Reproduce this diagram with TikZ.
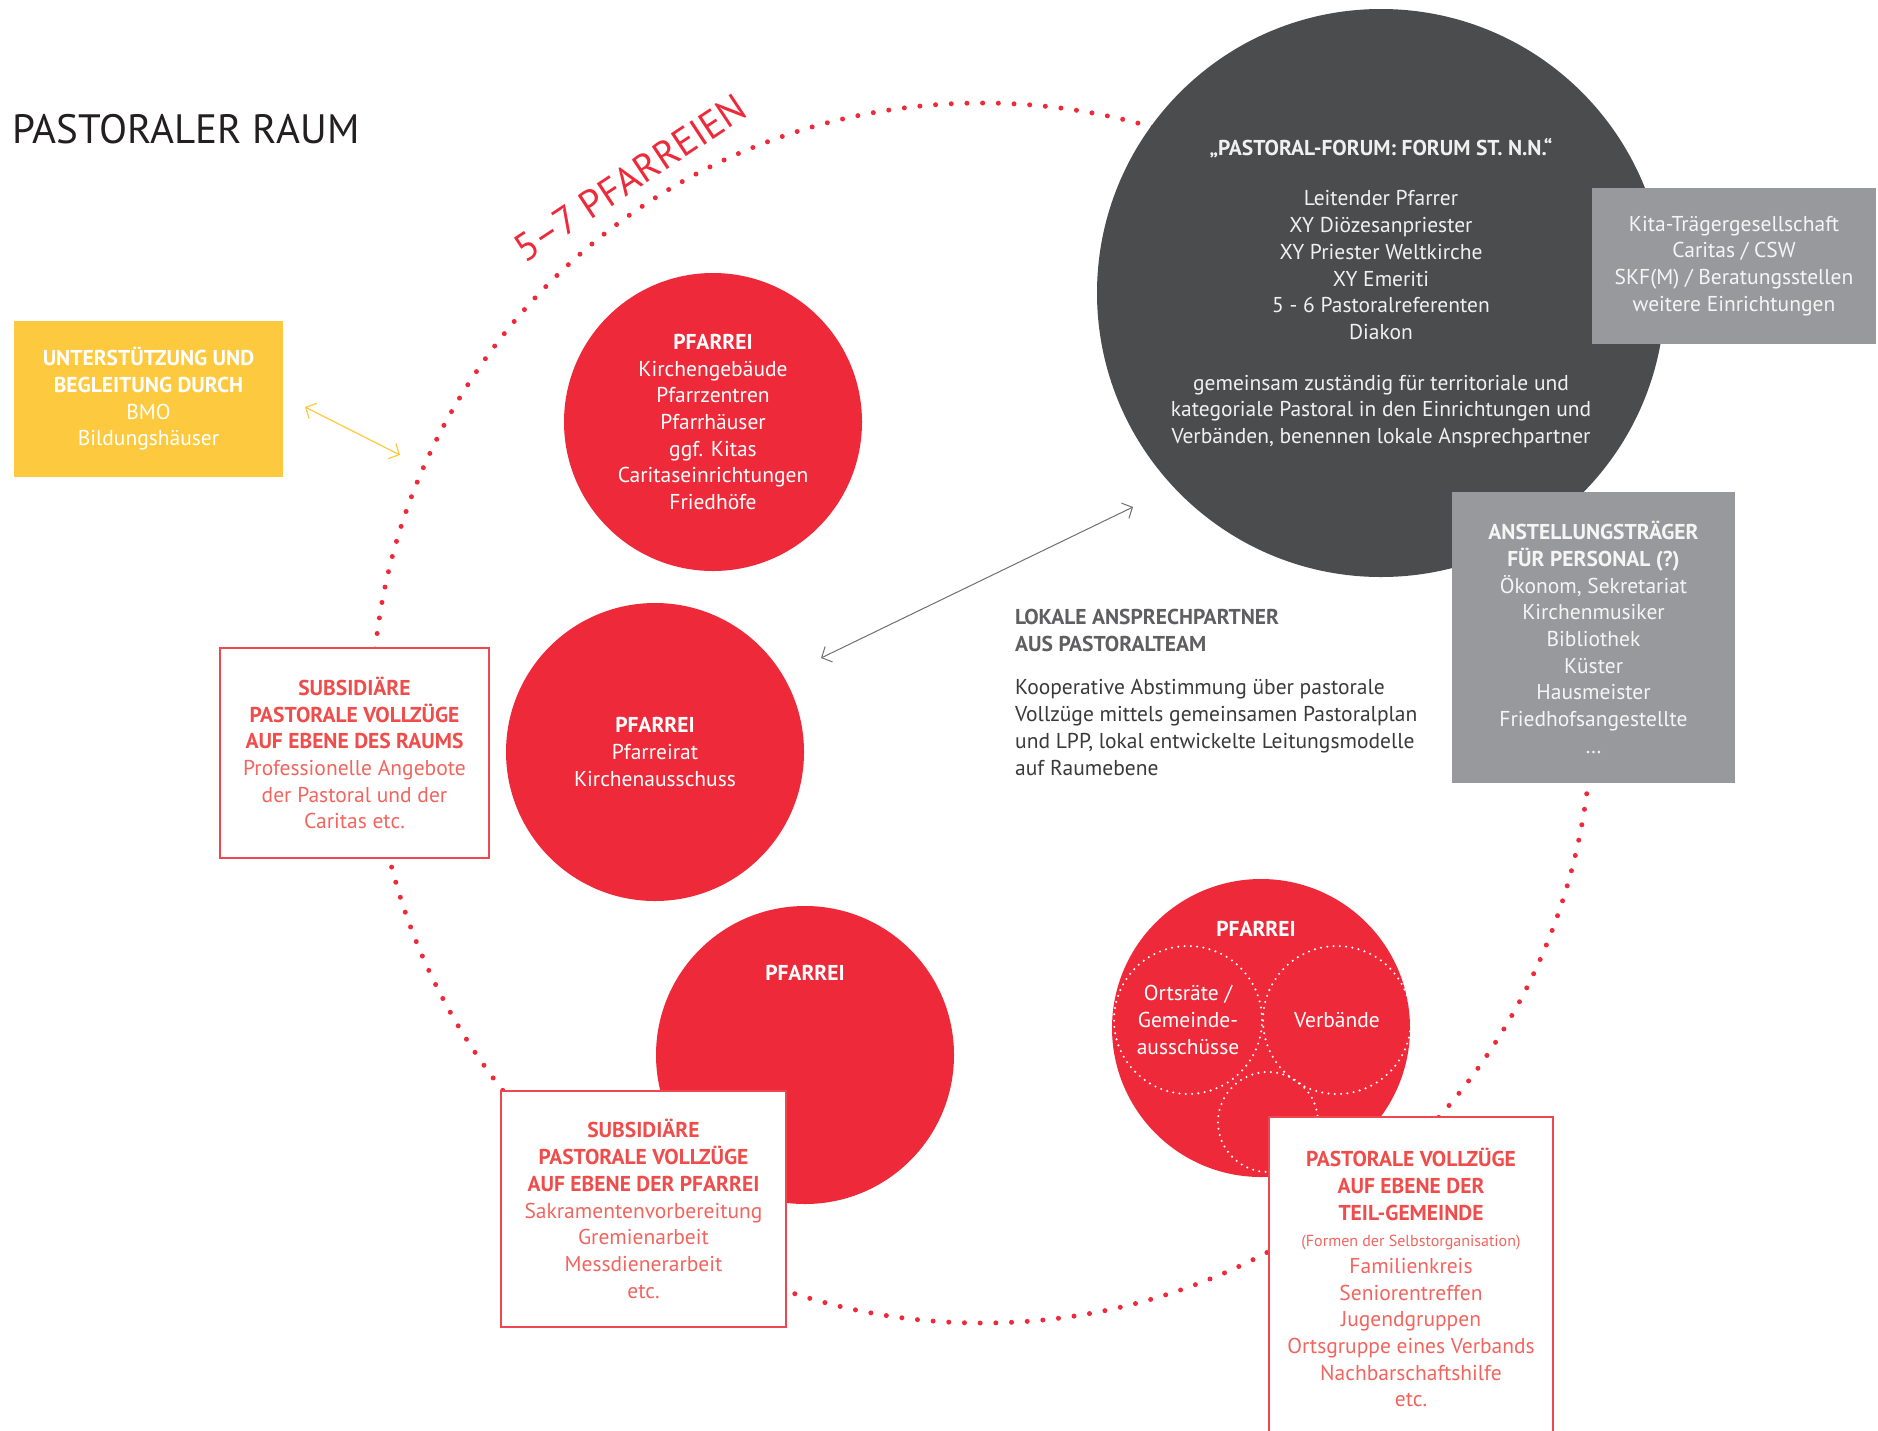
\documentclass[tikz,border=0pt]{standalone}
\usepackage{fontspec}
\setmainfont{PT Sans}
\usetikzlibrary{arrows.meta}
\definecolor{pfred}{HTML}{EE2A3A}
\definecolor{forumgrau}{HTML}{4B4C4E}
\definecolor{forumtext}{HTML}{F0F0F0}
\definecolor{kastengrau}{HTML}{98999C}
\definecolor{gelb}{HTML}{FDC93F}
\definecolor{boxrand}{HTML}{EF4650}
\definecolor{boxkopf}{HTML}{EE4D4B}
\definecolor{boxtext}{HTML}{F2655F}
\definecolor{lokkopf}{HTML}{5F5F61}
\definecolor{loktext}{HTML}{3A3A3A}
\definecolor{pfeilgrau}{HTML}{707070}
\definecolor{titel}{HTML}{231F20}
\newcommand{\rk}[1]{\textcolor{boxkopf}{\bfseries #1}}

\begin{document}
\begin{tikzpicture}[x=1pt, y=-1pt, >={Straight Barb[length=8pt,width=17pt]},
  every node/.style={font=\fontsize{21.5}{26.7}\selectfont, inner sep=0pt, align=center},
  pfarrei/.style={circle, fill=pfred, minimum size=298, text=white},
  teil/.style={circle, draw=white, line width=2.3pt, line cap=round,
    dash pattern=on 0pt off 6.3pt, minimum size=148, text=white},
  graubox/.style={fill=kastengrau, text=white!96!black, minimum width=284, minimum height=156},
  gelbbox/.style={fill=gelb, text=white, minimum width=269, minimum height=156},
  rotbox/.style={draw=boxrand, line width=1.5pt, fill=white, text=boxtext}]
\path[use as bounding box, fill=white] (0,0) rectangle (1878,1430);
\node[circle, draw=pfred, line width=5pt, line cap=round, dash pattern=on 0pt off 15.7pt,
  minimum size=1220] (raum) at (982,713) {};
\node[anchor=west, font=\fontsize{41}{48}\selectfont, text=titel] (titel) at (12,129) {PASTORALER RAUM};
\node[rotate=33.5, font=\fontsize{39}{44}\selectfont, text=pfred] (anzahl) at (630,178) {5–7 PFARREIEN};

\node[gelbbox] (bmo) at (148.5,399) {\textbf{UNTERSTÜTZUNG UND}\\\textbf{BEGLEITUNG DURCH}\\BMO\\Bildungshäuser};
\coordinate (bmopfeil) at (305,407);
\coordinate (raumpfeil) at (400,455);
\draw[<->, gelb, line width=1.2pt] (bmopfeil) -- (raumpfeil);

\node[pfarrei] (p1) at (713,422) {\textbf{PFARREI}\\Kirchengebäude\\Pfarrzentren\\Pfarrhäuser\\ggf. Kitas\\Caritaseinrichtungen\\Friedhöfe};
\node[pfarrei] (p2) at (655,752) {\textbf{PFARREI}\\Pfarreirat\\Kirchenausschuss};
\node[pfarrei] (p3) at (805,1055) {};
\node[text=white] (p3kopf) at ([yshift=82pt]p3.center) {\textbf{PFARREI}};

\node[circle, fill=forumgrau, minimum size=568, text=forumtext] (forum) at (1381,293)
  {\textbf{„PASTORAL-FORUM: FORUM ST. N.N.“}\\[24pt]Leitender Pfarrer\\XY Diözesanpriester\\XY Priester Weltkirche\\XY Emeriti\\5 - 6 Pastoralreferenten\\Diakon\\[24pt]gemeinsam zuständig für territoriale und\\kategoriale Pastoral in den Einrichtungen und\\Verbänden, benennen lokale Ansprechpartner};
\node[graubox] (kita) at (1734,266) {Kita-Trägergesellschaft\\Caritas / CSW\\SKF(M) / Beratungsstellen\\weitere Einrichtungen};
\node[graubox, minimum width=283, minimum height=291] (anstell) at (1593.5,637.5)
  {\textbf{ANSTELLUNGSTRÄGER}\\\textbf{FÜR PERSONAL (?)}\\Ökonom, Sekretariat\\Kirchenmusiker\\Bibliothek\\Küster\\Hausmeister\\Friedhofsangestellte\\…};

\coordinate (p2pfeil) at (821,658);
\coordinate (forumpfeil) at (1133,507);
\draw[<->, pfeilgrau, line width=1pt] (p2pfeil) -- (forumpfeil);
\node[anchor=north west, align=left, text=loktext] (lokal) at (1015,609)
  {\textcolor{lokkopf}{\textbf{LOKALE ANSPRECHPARTNER}}\\\textcolor{lokkopf}{\textbf{AUS PASTORALTEAM}}\\[17pt]Kooperative Abstimmung über pastorale\\Vollzüge mittels gemeinsamen Pastoralplan\\und LPP, lokal entwickelte Leitungsmodelle\\auf Raumebene};

\node[pfarrei] (p4) at (1261,1028) {};
\node[text=white] (p4kopf) at ([shift={(-5pt,99pt)}]p4.center) {\textbf{PFARREI}};
\node[teil] (ort) at (1188,1020) {Ortsräte /\\Gemeinde-\\ausschüsse};
\node[teil] (verb) at (1337,1020) {Verbände};
\node[teil, minimum size=100] (rest) at (1268,1122) {};

\node[rotbox, minimum width=269, minimum height=210] (raumebene) at (354.5,753)
  {\rk{SUBSIDIÄRE}\\\rk{PASTORALE VOLLZÜGE}\\\rk{AUF EBENE DES RAUMS}\\Professionelle Angebote\\der Pastoral und der\\Caritas etc.};
\node[rotbox, minimum width=285, minimum height=236] (pfarrebene) at (643.5,1209)
  {\rk{SUBSIDIÄRE}\\\rk{PASTORALE VOLLZÜGE}\\\rk{AUF EBENE DER PFARREI}\\Sakramentenvorbereitung\\Gremienarbeit\\Messdienerarbeit\\etc.};
\node[rotbox, anchor=north, minimum width=284, minimum height=322] (teilebene) at (1411,1116)
  {\rk{PASTORALE VOLLZÜGE}\\\rk{AUF EBENE DER}\\\rk{TEIL-GEMEINDE}\\{\fontsize{16}{18}\selectfont(Formen der Selbstorganisation)}\\Familienkreis\\Seniorentreffen\\Jugendgruppen\\Ortsgruppe eines Verbands\\Nachbarschaftshilfe\\etc.};
\end{tikzpicture}
\end{document}
